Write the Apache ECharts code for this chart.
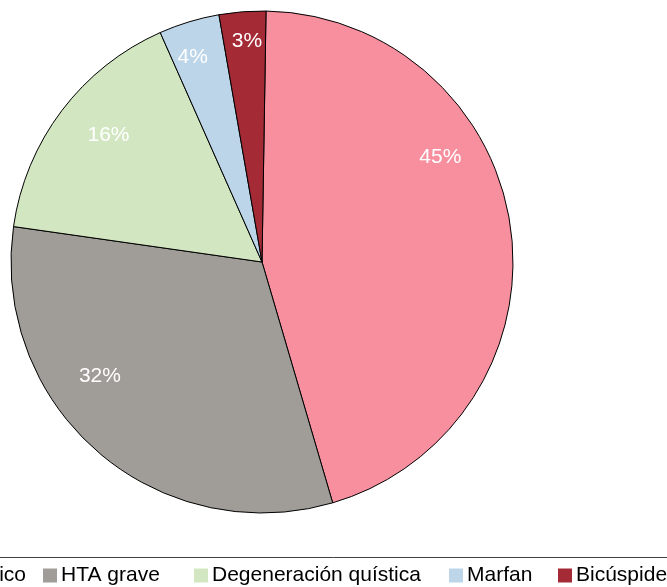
<!DOCTYPE html>
<html>
<head>
<meta charset="utf-8">
<script src="https://cdn.jsdelivr.net/npm/echarts@6/dist/echarts.min.js"></script>
<style>
  html, body { margin: 0; padding: 0; background: #fff; }
  #chart { width: 667px; height: 587px; }
</style>
</head>
<body>
<div id="chart"></div>
<script>
// data
var categories = ['Aterosclerótico', 'HTA grave', 'Degeneración quística', 'Marfan', 'Bicúspide'];
var values = [45.2, 31.8, 16.1, 3.9, 3.0];

// styles
var colors = ['#F78F9F', '#A09D98', '#D1E6C1', '#BCD5E8', '#A42A36'];
var labelOffsets = [[51, -88], [-78, 17], [-51, -49], [-32, -82], [-5, -93]];
var legendLeft = [null, 43, 194, 449, 558];
var FONT = '"Liberation Sans", Arial, sans-serif';

var chart = echarts.init(document.getElementById('chart'));

var pieData = categories.map(function (name, i) {
    return {
        name: name,
        value: values[i],
        itemStyle: { color: colors[i] },
        label: { offset: labelOffsets[i] }
    };
});

// one legend per item so each can sit where the original put it
var legends = categories.map(function (name, i) {
    var l = {
        data: [name],
        orient: 'horizontal',
        top: 565,
        padding: 0,
        itemWidth: 14,
        itemHeight: 14,
        icon: 'rect',
        selectedMode: false,
        itemStyle: { borderWidth: 0 },
        textStyle: { fontFamily: FONT, fontSize: 21, color: '#000', padding: [0, 0, 0, -1] }
    };
    if (i === 0) {
        l.right = 641;
    } else {
        l.left = legendLeft[i];
    }
    return l;
});

chart.setOption({
    animation: false,
    backgroundColor: '#fff',
    legend: legends,
    graphic: [{
        type: 'line',
        shape: { x1: 0, y1: 557.5, x2: 667, y2: 557.5 },
        style: { stroke: '#404040', lineWidth: 1 }
    }],
    series: [{
        type: 'pie',
        center: [262, 262],
        radius: 251,
        startAngle: 89.08,
        clockwise: true,
        data: pieData,
        itemStyle: { borderColor: '#000', borderWidth: 1 },
        label: {
            show: true,
            position: 'inside',
            formatter: function (p) { return Math.round(p.value) + '%'; },
            color: '#fff',
            fontFamily: FONT,
            fontWeight: 'normal',
            fontSize: 21,
            textBorderWidth: 0
        },
        labelLine: { show: false },
        emphasis: { disabled: true }
    }]
});

window.addEventListener('resize', function () { chart.resize(); });
</script>
</body>
</html>
